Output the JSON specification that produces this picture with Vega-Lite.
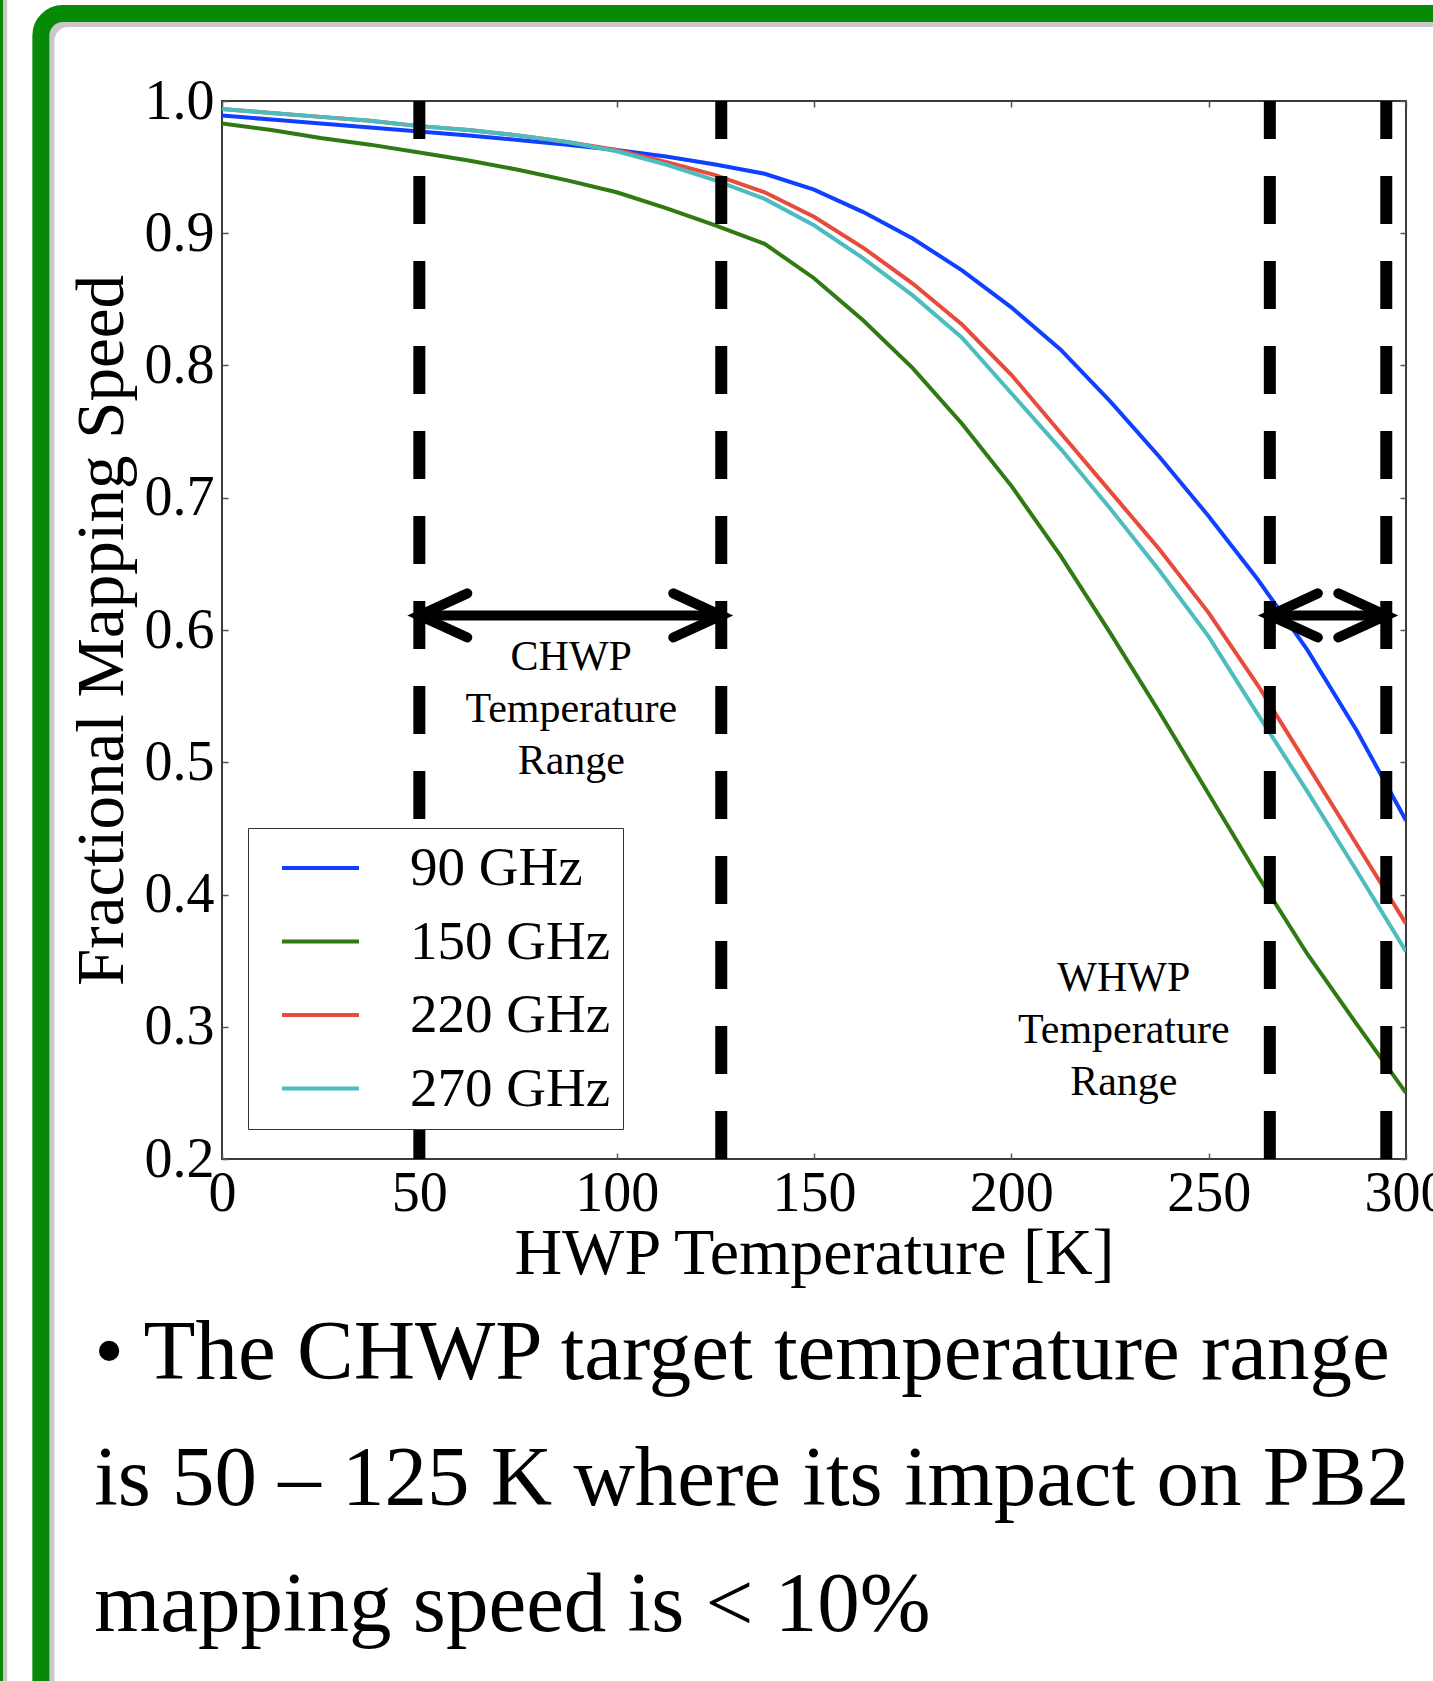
{
  "$schema": "https://vega.github.io/schema/vega-lite/v6.json",
  "width": 1184,
  "height": 1058,
  "autosize": {"type": "none"},
  "padding": {"left": 222, "top": 101, "right": 27, "bottom": 522},
  "background": "white",
  "config": {
    "view": {"stroke": "#3a3a3a", "strokeWidth": 2},
    "font": "Liberation Serif",
    "axis": {
      "labelFont": "Liberation Serif",
      "titleFont": "Liberation Serif",
      "labelColor": "black",
      "titleColor": "black",
      "grid": false,
      "domain": false,
      "tickColor": "#555555",
      "tickWidth": 1.5,
      "labelFlush": false,
      "labelOverlap": false,
      "labelBound": false
    }
  },
  "datasets": {
    "curves": [
      {"T": 0, "v": 0.989, "band": "90 GHz"}, {"T": 12.5, "v": 0.986, "band": "90 GHz"}, {"T": 25, "v": 0.983, "band": "90 GHz"}, {"T": 37.5, "v": 0.98, "band": "90 GHz"}, {"T": 50, "v": 0.977, "band": "90 GHz"}, {"T": 62.5, "v": 0.974, "band": "90 GHz"}, {"T": 75, "v": 0.9705, "band": "90 GHz"}, {"T": 87.5, "v": 0.967, "band": "90 GHz"}, {"T": 100, "v": 0.963, "band": "90 GHz"}, {"T": 112.5, "v": 0.958, "band": "90 GHz"}, {"T": 125, "v": 0.952, "band": "90 GHz"}, {"T": 137.5, "v": 0.945, "band": "90 GHz"}, {"T": 150, "v": 0.933, "band": "90 GHz"}, {"T": 162.5, "v": 0.916, "band": "90 GHz"}, {"T": 175, "v": 0.896, "band": "90 GHz"}, {"T": 187.5, "v": 0.872, "band": "90 GHz"}, {"T": 200, "v": 0.844, "band": "90 GHz"}, {"T": 212.5, "v": 0.812, "band": "90 GHz"}, {"T": 225, "v": 0.773, "band": "90 GHz"}, {"T": 237.5, "v": 0.731, "band": "90 GHz"}, {"T": 250, "v": 0.686, "band": "90 GHz"}, {"T": 262.5, "v": 0.638, "band": "90 GHz"}, {"T": 275, "v": 0.585, "band": "90 GHz"}, {"T": 287.5, "v": 0.524, "band": "90 GHz"}, {"T": 300, "v": 0.456, "band": "90 GHz"},
      {"T": 0, "v": 0.983, "band": "150 GHz"}, {"T": 12.5, "v": 0.978, "band": "150 GHz"}, {"T": 25, "v": 0.972, "band": "150 GHz"}, {"T": 37.5, "v": 0.967, "band": "150 GHz"}, {"T": 50, "v": 0.961, "band": "150 GHz"}, {"T": 62.5, "v": 0.955, "band": "150 GHz"}, {"T": 75, "v": 0.948, "band": "150 GHz"}, {"T": 87.5, "v": 0.94, "band": "150 GHz"}, {"T": 100, "v": 0.931, "band": "150 GHz"}, {"T": 112.5, "v": 0.919, "band": "150 GHz"}, {"T": 125, "v": 0.906, "band": "150 GHz"}, {"T": 137.5, "v": 0.892, "band": "150 GHz"}, {"T": 150, "v": 0.866, "band": "150 GHz"}, {"T": 162.5, "v": 0.834, "band": "150 GHz"}, {"T": 175, "v": 0.798, "band": "150 GHz"}, {"T": 187.5, "v": 0.756, "band": "150 GHz"}, {"T": 200, "v": 0.709, "band": "150 GHz"}, {"T": 212.5, "v": 0.656, "band": "150 GHz"}, {"T": 225, "v": 0.598, "band": "150 GHz"}, {"T": 237.5, "v": 0.538, "band": "150 GHz"}, {"T": 250, "v": 0.476, "band": "150 GHz"}, {"T": 262.5, "v": 0.414, "band": "150 GHz"}, {"T": 275, "v": 0.355, "band": "150 GHz"}, {"T": 287.5, "v": 0.302, "band": "150 GHz"}, {"T": 300, "v": 0.25, "band": "150 GHz"},
      {"T": 0, "v": 0.994, "band": "220 GHz"}, {"T": 12.5, "v": 0.991, "band": "220 GHz"}, {"T": 25, "v": 0.988, "band": "220 GHz"}, {"T": 37.5, "v": 0.985, "band": "220 GHz"}, {"T": 50, "v": 0.981, "band": "220 GHz"}, {"T": 62.5, "v": 0.978, "band": "220 GHz"}, {"T": 75, "v": 0.974, "band": "220 GHz"}, {"T": 87.5, "v": 0.969, "band": "220 GHz"}, {"T": 100, "v": 0.963, "band": "220 GHz"}, {"T": 112.5, "v": 0.954, "band": "220 GHz"}, {"T": 125, "v": 0.944, "band": "220 GHz"}, {"T": 137.5, "v": 0.931, "band": "220 GHz"}, {"T": 150, "v": 0.9125, "band": "220 GHz"}, {"T": 162.5, "v": 0.889, "band": "220 GHz"}, {"T": 175, "v": 0.862, "band": "220 GHz"}, {"T": 187.5, "v": 0.831, "band": "220 GHz"}, {"T": 200, "v": 0.793, "band": "220 GHz"}, {"T": 212.5, "v": 0.749, "band": "220 GHz"}, {"T": 225, "v": 0.705, "band": "220 GHz"}, {"T": 237.5, "v": 0.661, "band": "220 GHz"}, {"T": 250, "v": 0.613, "band": "220 GHz"}, {"T": 262.5, "v": 0.558, "band": "220 GHz"}, {"T": 275, "v": 0.498, "band": "220 GHz"}, {"T": 287.5, "v": 0.438, "band": "220 GHz"}, {"T": 300, "v": 0.378, "band": "220 GHz"},
      {"T": 0, "v": 0.994, "band": "270 GHz"}, {"T": 12.5, "v": 0.991, "band": "270 GHz"}, {"T": 25, "v": 0.988, "band": "270 GHz"}, {"T": 37.5, "v": 0.985, "band": "270 GHz"}, {"T": 50, "v": 0.981, "band": "270 GHz"}, {"T": 62.5, "v": 0.978, "band": "270 GHz"}, {"T": 75, "v": 0.974, "band": "270 GHz"}, {"T": 87.5, "v": 0.969, "band": "270 GHz"}, {"T": 100, "v": 0.962, "band": "270 GHz"}, {"T": 112.5, "v": 0.952, "band": "270 GHz"}, {"T": 125, "v": 0.94, "band": "270 GHz"}, {"T": 137.5, "v": 0.926, "band": "270 GHz"}, {"T": 150, "v": 0.906, "band": "270 GHz"}, {"T": 162.5, "v": 0.881, "band": "270 GHz"}, {"T": 175, "v": 0.853, "band": "270 GHz"}, {"T": 187.5, "v": 0.821, "band": "270 GHz"}, {"T": 200, "v": 0.779, "band": "270 GHz"}, {"T": 212.5, "v": 0.737, "band": "270 GHz"}, {"T": 225, "v": 0.692, "band": "270 GHz"}, {"T": 237.5, "v": 0.645, "band": "270 GHz"}, {"T": 250, "v": 0.595, "band": "270 GHz"}, {"T": 262.5, "v": 0.536, "band": "270 GHz"}, {"T": 275, "v": 0.478, "band": "270 GHz"}, {"T": 287.5, "v": 0.418, "band": "270 GHz"}, {"T": 300, "v": 0.357, "band": "270 GHz"}
    ],
    "bounds": [{"T": 50}, {"T": 126.5}, {"T": 265.5}, {"T": 295}],
    "arrows": [{"from": 50, "to": 126.5, "level": 0.611}, {"from": 265.5, "to": 295, "level": 0.611}],
    "notes": [
      {"label": "CHWP\nTemperature\nRange", "T": 88.5, "v": 0.5698},
      {"label": "WHWP\nTemperature\nRange", "T": 228.5, "v": 0.327}
    ],
    "bullet": [{"text": "• The CHWP target temperature range\nis 50 – 125 K where its impact on PB2\nmapping speed is < 10%"}]
  },
  "layer": [
    {
      "data": {"values": [{"frame": "shadow"}]},
      "mark": {"type": "rect", "fill": "white", "fillOpacity": 0, "stroke": "#9a9a9a", "strokeOpacity": 0.55, "strokeWidth": 17, "cornerRadius": 22, "clip": false},
      "encoding": {
        "x": {"datum": -44.6, "type": "quantitative", "axis": null},
        "x2": {"datum": 341},
        "y": {"datum": 1.0624, "type": "quantitative", "axis": null},
        "y2": {"datum": -0.3}
      }
    },
    {
      "data": {"values": [{"frame": "slide"}]},
      "mark": {"type": "rect", "fill": "white", "fillOpacity": 0, "stroke": "#078a07", "strokeWidth": 17, "cornerRadius": 22, "clip": false},
      "encoding": {
        "x": {"datum": -45.9, "type": "quantitative", "axis": null},
        "x2": {"datum": 340},
        "y": {"datum": 1.0662, "type": "quantitative", "axis": null},
        "y2": {"datum": -0.3}
      }
    },
    {
      "data": {"values": [{"frame": "edge shadow"}]},
      "mark": {"type": "rule", "stroke": "#9a9a9a", "strokeOpacity": 0.55, "strokeWidth": 6, "clip": false},
      "encoding": {
        "x": {"datum": -55.2, "type": "quantitative", "axis": null},
        "y": {"datum": 1.2, "type": "quantitative", "axis": null},
        "y2": {"datum": -0.4}
      }
    },
    {
      "data": {"values": [{"frame": "edge"}]},
      "mark": {"type": "rule", "stroke": "#078a07", "strokeWidth": 6, "clip": false},
      "encoding": {
        "x": {"datum": -56.25, "type": "quantitative", "axis": null},
        "y": {"datum": 1.2, "type": "quantitative", "axis": null},
        "y2": {"datum": -0.4}
      }
    },
    {
      "data": {"name": "curves"},
      "mark": {"type": "line", "strokeWidth": 4, "clip": true},
      "encoding": {
        "x": {
          "field": "T", "type": "quantitative",
          "scale": {"domain": [0, 300], "nice": false, "zero": false},
          "axis": {
            "orient": "bottom", "values": [0, 50, 100, 150, 200, 250, 300],
            "labelFontSize": 56, "tickSize": -6, "labelPadding": 13,
            "title": "HWP Temperature [K]", "titleFontSize": 66, "titleFontWeight": "normal", "titlePadding": 0
          }
        },
        "y": {
          "field": "v", "type": "quantitative",
          "scale": {"domain": [0.2, 1.0], "nice": false, "zero": false},
          "axis": {
            "orient": "left", "values": [0.2, 0.3, 0.4, 0.5, 0.6, 0.7, 0.8, 0.9, 1.0], "format": ".1f",
            "labelFontSize": 56, "tickSize": -6, "labelPadding": 14,
            "title": "Fractional Mapping Speed", "titleFontSize": 67, "titleFontWeight": "normal", "titlePadding": 8
          }
        },
        "color": {
          "field": "band", "type": "nominal",
          "scale": {"domain": ["90 GHz", "150 GHz", "220 GHz", "270 GHz"], "range": ["#1040ff", "#2f7a12", "#e84a3c", "#4cbcbf"]},
          "legend": {
            "orient": "none", "legendX": 26, "legendY": 727, "title": null,
            "symbolType": "M-1.51,0L1.51,0", "symbolSize": 2601, "symbolStrokeWidth": 4, "symbolOffset": 32.5,
            "labelFontSize": 55, "labelFont": "Liberation Serif", "labelColor": "black", "labelOffset": 62, "labelLimit": 0,
            "labelExpr": "datum.label + '\u00a0\u00a0\u00a0'",
            "padding": 12.5, "strokeColor": "#333333", "fillColor": "white", "rowPadding": 17.5
          }
        }
      }
    },
    {
      "data": {"name": "bounds"},
      "mark": {"type": "rule", "color": "black", "strokeWidth": 12, "strokeDash": [48, 37]},
      "encoding": {
        "x": {
          "field": "T", "type": "quantitative",
          "axis": {"orient": "top", "values": [0, 50, 100, 150, 200, 250, 300], "labels": false, "title": null, "tickSize": -6}
        },
        "y": {
          "datum": 0.2, "type": "quantitative",
          "axis": {"orient": "right", "values": [0.2, 0.3, 0.4, 0.5, 0.6, 0.7, 0.8, 0.9, 1.0], "labels": false, "title": null, "tickSize": -6}
        },
        "y2": {"datum": 1.0}
      }
    },
    {
      "data": {"name": "arrows"},
      "mark": {"type": "rule", "color": "black", "strokeWidth": 10},
      "encoding": {
        "x": {"field": "from", "type": "quantitative", "axis": null},
        "x2": {"field": "to"},
        "y": {"field": "level", "type": "quantitative", "axis": null}
      }
    },
    {
      "data": {"name": "arrows"},
      "mark": {"type": "point", "shape": "M1,-0.46L0,0L1,0.46", "size": 9216, "filled": false, "color": "black", "strokeWidth": 10, "strokeCap": "round", "strokeJoin": "miter", "opacity": 1},
      "encoding": {
        "x": {"field": "from", "type": "quantitative", "axis": null},
        "y": {"field": "level", "type": "quantitative", "axis": null}
      }
    },
    {
      "data": {"name": "arrows"},
      "mark": {"type": "point", "shape": "M-1,-0.46L0,0L-1,0.46", "size": 9216, "filled": false, "color": "black", "strokeWidth": 10, "strokeCap": "round", "strokeJoin": "miter", "opacity": 1},
      "encoding": {
        "x": {"field": "to", "type": "quantitative", "axis": null},
        "y": {"field": "level", "type": "quantitative", "axis": null}
      }
    },
    {
      "data": {"name": "notes"},
      "mark": {"type": "text", "font": "Liberation Serif", "fontSize": 42, "lineBreak": "\n", "lineHeight": 52, "align": "center", "baseline": "alphabetic", "color": "black"},
      "encoding": {
        "x": {"field": "T", "type": "quantitative", "axis": null},
        "y": {"field": "v", "type": "quantitative", "axis": null},
        "text": {"field": "label"}
      }
    },
    {
      "data": {"name": "bullet"},
      "mark": {"type": "text", "font": "Liberation Serif", "fontSize": 85, "lineBreak": "\n", "lineHeight": 126, "align": "left", "baseline": "alphabetic", "color": "black", "clip": false},
      "encoding": {
        "x": {"datum": -32.4, "type": "quantitative", "axis": null},
        "y": {"datum": 0.0336, "type": "quantitative", "axis": null},
        "text": {"field": "text"}
      }
    }
  ],
  "resolve": {"axis": {"x": "independent", "y": "independent"}}
}
